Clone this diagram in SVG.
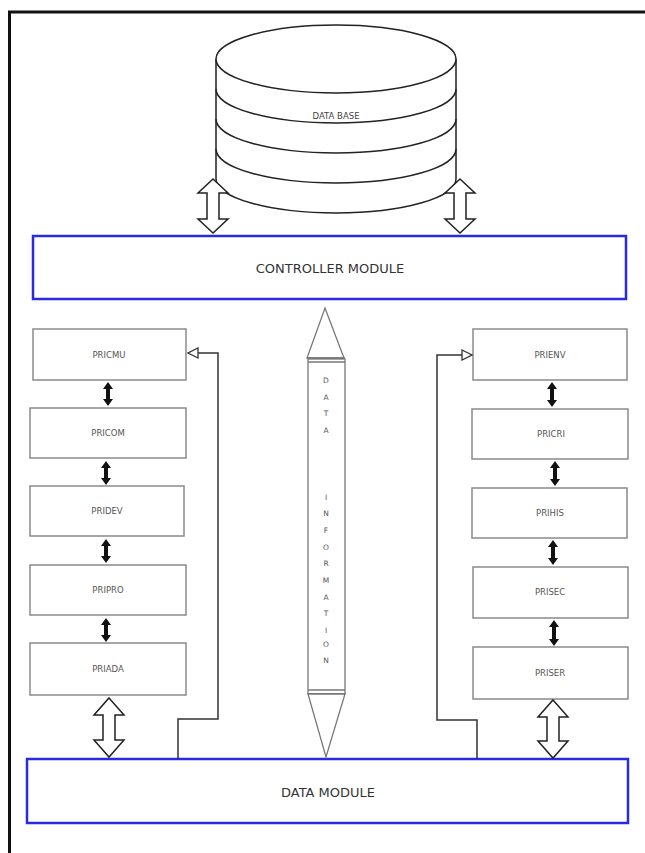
<svg xmlns="http://www.w3.org/2000/svg" width="645" height="853" viewBox="0 0 645 853">
<style>
.frame{stroke:#111;stroke-width:3;fill:none}
.mod{fill:#fff;stroke:#2a2ade;stroke-width:2.5}
.modt{font-family:"DejaVu Sans",sans-serif;font-size:13px;fill:#333;text-anchor:middle}
.box{fill:#fff;stroke:#8a8a8a;stroke-width:1.5}
.boxt{font-family:"DejaVu Sans",sans-serif;font-size:8.5px;fill:#555;text-anchor:middle}
.db{fill:#fff;stroke:#222;stroke-width:1.5}
.arc{fill:none;stroke:#222;stroke-width:1.5}
.hol{fill:#fff;stroke:#222;stroke-width:1.5;stroke-linejoin:miter}
.blk{fill:#111;stroke:none}
.ln{fill:none;stroke:#333;stroke-width:1.5}
.di{fill:#fff;stroke:#777;stroke-width:1.3}
.dit{font-family:"DejaVu Sans",sans-serif;font-size:7.5px;fill:#555;text-anchor:middle}
</style>
<defs>
<marker id="tri" viewBox="0 0 12 12" refX="11" refY="6" markerWidth="12" markerHeight="12" markerUnits="userSpaceOnUse" orient="auto">
<path d="M1,1 L11,6 L1,11 Z" fill="#fff" stroke="#333" stroke-width="1.3"/>
</marker>
</defs>
<rect width="645" height="853" fill="#fff"/>
<path class="frame" d="M9.5,853 L9.5,12 L645,12"/>

<g id="database">
<path class="db" d="M216,59 L216,179 A120,34 0 0 0 456,179 L456,59"/>
<ellipse class="db" cx="336" cy="59" rx="120" ry="34"/>
<path class="arc" d="M216,89 A120,34 0 0 0 456,89"/>
<path class="arc" d="M216,119 A120,34 0 0 0 456,119"/>
<path class="arc" d="M216,149 A120,34 0 0 0 456,149"/>
<text x="336" y="119" font-family="DejaVu Sans,sans-serif" font-size="8.5" fill="#444" text-anchor="middle">DATA BASE</text>
</g>

<g id="controller">
<rect class="mod" x="33" y="236" width="593" height="63"/>
<text class="modt" x="330" y="273">CONTROLLER MODULE</text>
</g>

<g id="datamodule">
<rect class="mod" x="27" y="759" width="601" height="64"/>
<text class="modt" x="328" y="797">DATA MODULE</text>
</g>

<g id="pricmu"><rect class="box" x="33" y="329" width="153" height="51"/><text class="boxt" x="109" y="358">PRICMU</text></g>
<g id="pricom"><rect class="box" x="30" y="408" width="156" height="50"/><text class="boxt" x="108" y="436">PRICOM</text></g>
<g id="pridev"><rect class="box" x="30" y="486" width="154" height="50"/><text class="boxt" x="107" y="514">PRIDEV</text></g>
<g id="pripro"><rect class="box" x="30" y="565" width="156" height="50"/><text class="boxt" x="108" y="593">PRIPRO</text></g>
<g id="priada"><rect class="box" x="30" y="643" width="156" height="52"/><text class="boxt" x="108" y="672">PRIADA</text></g>

<g id="prienv"><rect class="box" x="473" y="329" width="154" height="51"/><text class="boxt" x="550" y="358">PRIENV</text></g>
<g id="pricri"><rect class="box" x="472" y="409" width="156" height="50"/><text class="boxt" x="551" y="437">PRICRI</text></g>
<g id="prihis"><rect class="box" x="472" y="488" width="155" height="50"/><text class="boxt" x="550" y="516">PRIHIS</text></g>
<g id="prisec"><rect class="box" x="473" y="567" width="155" height="51"/><text class="boxt" x="550" y="595">PRISEC</text></g>
<g id="priser"><rect class="box" x="473" y="647" width="155" height="52"/><text class="boxt" x="550" y="676">PRISER</text></g>

<g id="datainfo">
<path class="di" d="M325,308 L344,358 L307,358 Z"/>
<rect class="di" x="308" y="359" width="37" height="335"/>
<path class="di" d="M308,358 L345,358 M308,362 L345,362 M308,690 L345,690 M308,694 L345,694"/>
<path class="di" d="M308,694 L345,694 L326,757 Z"/>
<g class="dit">
<text x="326" y="383">D</text><text x="326" y="400">A</text><text x="326" y="416">T</text><text x="326" y="433">A</text>
<text x="326" y="500">I</text><text x="326" y="516">N</text><text x="326" y="533">F</text><text x="326" y="550">O</text><text x="326" y="566">R</text><text x="326" y="583">M</text><text x="326" y="600">A</text><text x="326" y="616">T</text><text x="326" y="633">I</text><text x="326" y="647">O</text><text x="326" y="663">N</text>
</g>
</g>

<g id="connectors">
<path class="hol" d="M213,179 L228,193 L219,193 L219,219 L228,219 L213,233 L198,219 L207,219 L207,193 L198,193 Z"/>
<path class="hol" d="M460,179 L475,193 L466,193 L466,219 L475,219 L460,233 L445,219 L454,219 L454,193 L445,193 Z"/>
<path class="hol" d="M109,698 L124,715 L115,715 L115,740 L124,740 L109,757 L94,740 L103,740 L103,715 L94,715 Z"/>
<path class="hol" d="M553,700 L568,717 L559,717 L559,741 L568,741 L553,758 L538,741 L547,741 L547,717 L538,717 Z"/>
<path class="blk" d="M108,382 L113,389 L110,389 L110,399 L113,399 L108,406 L103,399 L106,399 L106,389 L103,389 Z"/>
<path class="blk" d="M106,461 L111,468 L108,468 L108,478 L111,478 L106,485 L101,478 L104,478 L104,468 L101,468 Z"/>
<path class="blk" d="M106,539 L111,546 L108,546 L108,556 L111,556 L106,563 L101,556 L104,556 L104,546 L101,546 Z"/>
<path class="blk" d="M106,618 L111,625 L108,625 L108,635 L111,635 L106,642 L101,635 L104,635 L104,625 L101,625 Z"/>
<path class="blk" d="M552,382 L557,389 L554,389 L554,400 L557,400 L552,407 L547,400 L550,400 L550,389 L547,389 Z"/>
<path class="blk" d="M555,461 L560,468 L557,468 L557,479 L560,479 L555,486 L550,479 L553,479 L553,468 L550,468 Z"/>
<path class="blk" d="M553,540 L558,547 L555,547 L555,558 L558,558 L553,565 L548,558 L551,558 L551,547 L548,547 Z"/>
<path class="blk" d="M554,620 L559,627 L556,627 L556,639 L559,639 L554,646 L549,639 L552,639 L552,627 L549,627 Z"/>
<path class="ln" d="M178,759 L178,719 L218,719 L218,353 L188,353" marker-end="url(#tri)"/>
<path class="ln" d="M477,759 L477,720 L437,720 L437,355 L472,355" marker-end="url(#tri)"/>
</g>
</svg>
